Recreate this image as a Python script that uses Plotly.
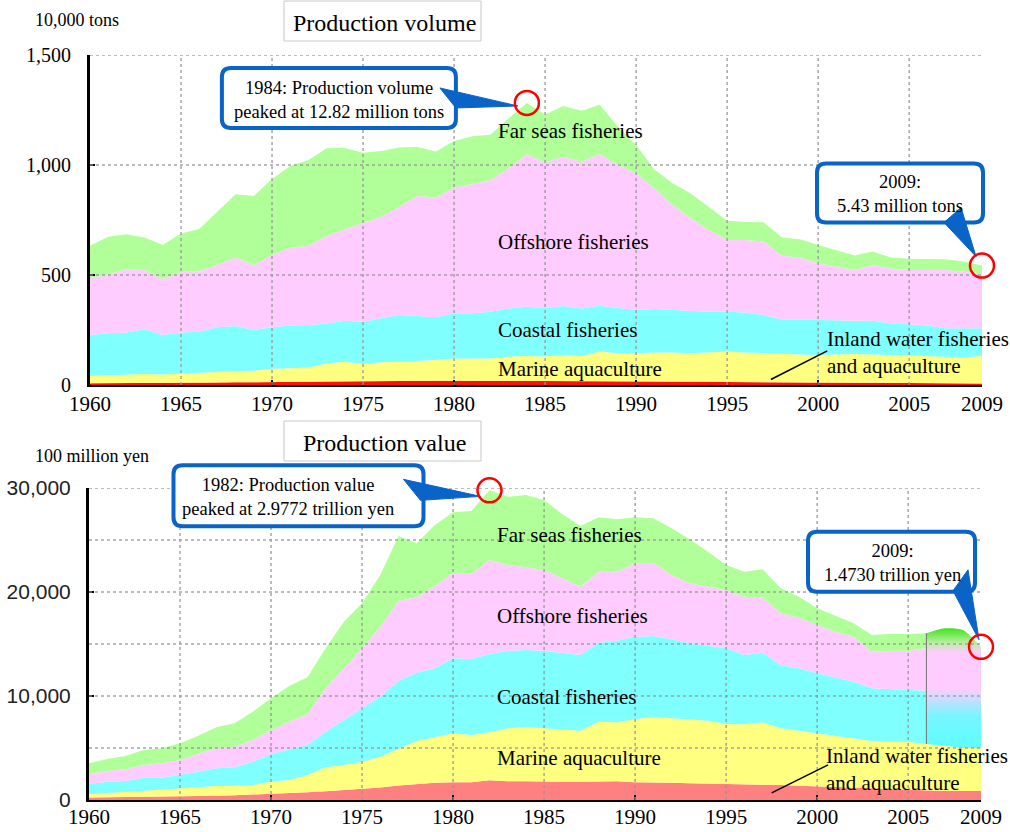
import numpy as np
import plotly.graph_objects as go

W, H = 1010, 832
SERIF = "Liberation Serif"
SANS = "Liberation Sans"

years = list(range(1960, 2010))
x_ticks = [1960, 1965, 1970, 1975, 1980, 1985, 1990, 1995, 2000, 2005, 2009]
grid_years = [1965, 1970, 1975, 1980, 1985, 1990, 1995, 2000, 2005]

# ---- Production volume (10,000 tons), 1960-2009 ----
vol_inland = [8, 8, 9, 9, 10, 10, 11, 11, 12, 12,
              13, 14, 15, 16, 17, 17, 18, 19, 19, 19,
              19, 18, 18, 18, 18, 18, 18, 17, 17, 17,
              16, 16, 16, 15, 15, 14, 13, 13, 12, 12,
              11, 11, 10, 10, 9, 9, 8, 8, 7, 7]
vol_marine_aqua = [33, 37, 39, 41, 38, 43, 45, 48, 52, 53,
                   61, 62, 65, 82, 89, 79, 85, 87, 90, 95,
                   101, 103, 103, 111, 114, 111, 118, 115, 135, 127,
                   128, 132, 132, 129, 133, 138, 135, 131, 129, 127,
                   125, 128, 131, 129, 127, 126, 124, 121, 119, 125]
vol_coastal = [186, 190, 191, 203, 179, 186, 186, 203, 204, 185,
               188, 194, 193, 182, 186, 192, 200, 212, 205, 194,
               206, 205, 212, 219, 224, 221, 223, 216, 208, 206,
               197, 197, 193, 194, 185, 181, 182, 174, 157, 159,
               159, 153, 151, 153, 144, 141, 138, 129, 132, 126]
vol_offshore = [258, 268, 287, 270, 255, 275, 276, 283, 312, 295,
                329, 354, 360, 397, 416, 450, 462, 492, 546, 543,
                572, 588, 599, 637, 694, 661, 679, 667, 690, 650,
                621, 549, 477, 420, 372, 326, 329, 334, 290, 282,
                258, 246, 231, 253, 250, 247, 253, 265, 257, 250]
vol_far_seas = [148, 171, 159, 147, 154, 175, 191, 243, 287, 314,
                345, 371, 390, 399, 369, 318, 299, 269, 222, 210,
                211, 217, 206, 227, 232, 218, 230, 232, 224, 174,
                129, 86, 99, 113, 106, 88, 82, 88, 82, 82,
                83, 76, 66, 62, 49, 51, 50, 49, 46, 35]

# ---- Production value (100 million yen) ----
val_inland = [240, 260, 280, 300, 310, 330, 370, 410, 460, 520,
              580, 660, 750, 850, 950, 1100, 1200, 1400, 1550, 1650,
              1700, 1700, 1900, 1800, 1800, 1750, 1750, 1750, 1750, 1800,
              1700, 1700, 1650, 1600, 1580, 1550, 1520, 1500, 1440, 1380,
              1300, 1250, 1200, 1120, 1060, 1000, 900, 870, 860, 860]
val_marine_aqua = [305, 445, 521, 597, 716, 792, 912, 936, 918, 922,
                   1183, 1263, 1654, 2291, 2415, 2586, 2967, 3500, 4123, 4376,
                   4710, 4550, 4606, 5091, 5187, 5141, 5045, 4917, 5782, 5668,
                   6056, 6313, 6203, 6156, 6048, 5758, 5756, 5968, 5451, 5287,
                   5110, 4904, 4729, 4553, 4549, 4609, 4485, 4322, 4172, 4108]
# fishery breakdown by type is available for 1960-2006
val_coastal = [993, 1058, 1026, 1250, 1121, 1282, 1442, 1699, 1763, 2244,
               2660, 2949, 2884, 3430, 4327, 5128, 5769, 6550, 6571, 6634,
               7212, 7308, 7532, 7468, 7436, 7468, 7372, 7275, 7596, 7853,
               7949, 7756, 7596, 7308, 7212, 7275, 6666, 6699, 6090, 5993,
               5769, 5641, 5449, 5064, 5032, 4968, 5128]
val_offshore = [930, 1025, 1122, 1218, 1379, 1442, 1699, 1923, 1987, 2083,
                2308, 2660, 2949, 4166, 4968, 5769, 6731, 7700, 7243, 7917,
                8237, 8173, 9039, 8237, 7949, 7756, 7147, 6571, 6827, 6634,
                7052, 7052, 6186, 5769, 5673, 5609, 5609, 5320, 4968, 4872,
                4648, 4391, 4327, 3526, 3718, 3782, 4070]
val_far_seas = [1058, 1154, 1282, 1443, 1442, 1603, 1763, 2019, 2244, 2725,
                3045, 3430, 3558, 3846, 4487, 4327, 4968, 6235, 5192, 5865,
                5801, 6057, 6695, 6571, 6955, 6731, 6154, 5833, 5224, 5032,
                4422, 4262, 4487, 4231, 3365, 2404, 2404, 2692, 2404, 2019,
                1602, 1506, 1282, 1602, 1603, 1603, 1443]
# marine fisheries total (not broken down), 2006-2009
years_combined = [2006, 2007, 2008, 2009]
val_marine_fisheries = [10641, 11314, 11314, 9762]

GREEN = "#b0ff98"
PINK = "#ffccff"
CYAN = "#80ffff"
YELLOW = "#ffff80"
RED_VOL = "#ff1010"
RED_VAL = "#ff8080"
BLUE = "#0a64c8"
GRID = "rgba(150,150,150,0.85)"

X_RANGE = [1960, 2009]
# subplot placement in figure pixels: (left, right, top, bottom)
TOP_BOX = (90, 982, 55, 385)
BOT_BOX = (89, 981, 488, 800)
TOP_YRANGE = [0, 1500]
BOT_YRANGE = [0, 30000]

fig = go.Figure()


def area(x, y, color, fill, xa, ya, shape="linear", **kw):
    fig.add_trace(go.Scatter(
        x=x, y=y, mode="lines", line=dict(width=0, shape=shape),
        fill=fill, fillcolor=color, xaxis=xa, yaxis=ya,
        hoverinfo="skip", showlegend=False, **kw))


# volume stack
vol_stack = np.cumsum(np.vstack([vol_inland, vol_marine_aqua, vol_coastal,
                                 vol_offshore, vol_far_seas]), axis=0)
for i, c in enumerate([RED_VOL, YELLOW, CYAN, PINK, GREEN]):
    area(years, vol_stack[i], c, "tozeroy" if i == 0 else "tonexty", "x", "y")

# value stack
n_det = len(val_coastal)
val_base = np.cumsum(np.vstack([val_inland, val_marine_aqua]), axis=0)
area(years, val_base[0], RED_VAL, "tozeroy", "x2", "y2")
area(years, val_base[1], YELLOW, "tonexty", "x2", "y2")
area(years[:n_det], val_base[1][:n_det], "rgba(0,0,0,0)", "none", "x2", "y2")
det_stack = val_base[1][:n_det] + np.cumsum(
    np.vstack([val_coastal, val_offshore, val_far_seas]), axis=0)
for i, c in enumerate([CYAN, PINK, GREEN]):
    area(years[:n_det], det_stack[i], c, "tonexty", "x2", "y2")

k0 = years.index(years_combined[0])
comb_base = val_base[1][k0:]
comb_top = comb_base + np.array(val_marine_fisheries)
area(years_combined, comb_base, "rgba(0,0,0,0)", "none", "x2", "y2")
lo, hi = float(comb_base.min()), float(comb_top.max())
fig.add_trace(go.Scatter(
    x=years_combined, y=comb_top, mode="lines",
    line=dict(width=0, shape="spline", smoothing=0.8),
    fill="tonexty",
    fillgradient=dict(type="vertical", start=lo, stop=hi,
                      colorscale=[[0.0, "#5cfcff"], [0.27, "#78f6ff"],
                                  [0.5, "#ffccff"], [0.8, "#ffccff"],
                                  [0.88, "#b8f0a0"], [1.0, "#40e41e"]]),
    xaxis="x2", yaxis="y2", hoverinfo="skip", showlegend=False))
# divider where the breakdown stops
fig.add_trace(go.Scatter(
    x=[years_combined[0], years_combined[0]],
    y=[comb_base[0], comb_top[0]], mode="lines",
    line=dict(color="#707070", width=1), xaxis="x2", yaxis="y2",
    hoverinfo="skip", showlegend=False))


# ---- axes ----
def px(v):
    return v / W


def py(v):
    return 1 - v / H


def data_to_paper(box, yrange, xv, yv):
    l, r, t, b = box
    fx = (xv - X_RANGE[0]) / (X_RANGE[1] - X_RANGE[0])
    fy = (yv - yrange[0]) / (yrange[1] - yrange[0])
    return px(l + fx * (r - l)), py(b - fy * (b - t))


xa_common = dict(range=X_RANGE, tickmode="array", tickvals=x_ticks,
                 ticktext=[str(t) for t in x_ticks], ticks="",
                 showline=True, linecolor="black", linewidth=2,
                 showgrid=False, zeroline=False, automargin=False,
                 tickfont=dict(family=SERIF, size=21, color="black"),
                 minor=dict(tickmode="array", tickvals=[1970, 1980, 1990, 2000],
                            ticks="inside", ticklen=5, tickwidth=1.5,
                            tickcolor="black", showgrid=False))
ya_common = dict(tickmode="array", ticks="inside", ticklen=5, tickwidth=2,
                 tickcolor="black", showline=True, linecolor="black",
                 linewidth=3, showgrid=False, zeroline=False,
                 automargin=False)
fig.update_layout(
    width=W, height=H, margin=dict(l=0, r=0, t=0, b=0, autoexpand=False),
    paper_bgcolor="white", plot_bgcolor="white", showlegend=False,
    xaxis=dict(domain=[px(TOP_BOX[0]), px(TOP_BOX[1])], anchor="y",
               ticklabelstandoff=-1, **xa_common),
    yaxis=dict(domain=[py(TOP_BOX[3]), py(TOP_BOX[2])], anchor="x",
               range=TOP_YRANGE, tickvals=[0, 500, 1000, 1500], tickformat=",",
               tickfont=dict(family=SERIF, size=20, color="black"),
               ticklabelstandoff=12, **ya_common),
    xaxis2=dict(domain=[px(BOT_BOX[0]), px(BOT_BOX[1])], anchor="y2",
                ticklabelstandoff=-3, **xa_common),
    yaxis2=dict(domain=[py(BOT_BOX[3]), py(BOT_BOX[2])], anchor="x2",
                range=BOT_YRANGE, tickvals=[0, 10000, 20000, 30000],
                ticktext=["0", "10,000", "20,000", "30,000"],
                tickfont=dict(family=SANS, size=21, color="#222"),
                ticklabelstandoff=11, **ya_common),
)

shapes = []
annotations = []

# dotted grid drawn over the areas
for xr, yr, hvals in [("x", "y", [500, 1000, 1500]),
                      ("x2", "y2", [5000, 10000, 15000, 20000, 25000, 30000])]:
    for g in grid_years:
        shapes.append(dict(type="line", xref=xr, yref=yr + " domain",
                           x0=g, x1=g, y0=0, y1=1, layer="above",
                           line=dict(color=GRID, width=1.5, dash="dot")))
    for h in hvals:
        shapes.append(dict(type="line", xref=xr + " domain", yref=yr,
                           x0=0, x1=1, y0=h, y1=h, layer="above",
                           line=dict(color=GRID, width=1.5, dash="dot")))

# panel titles and units
for text, y0, y1 in [("Production volume", 0, 41), ("Production value", 420, 461)]:
    shapes.append(dict(type="rect", xref="paper", yref="paper",
                       x0=px(284), x1=px(481), y0=py(y1), y1=py(y0 + 1),
                       line=dict(color="#c8c8c8", width=1), fillcolor="white",
                       layer="above"))
    annotations.append(dict(text=text, xref="paper", yref="paper",
                            x=px(384), y=py((y0 + y1) / 2 + 2), showarrow=False,
                            xanchor="center", yanchor="middle",
                            font=dict(family=SERIF, size=24, color="black")))
for text, yy in [("10,000 tons", 20), ("100 million yen", 456)]:
    annotations.append(dict(text=text, xref="paper", yref="paper",
                            x=px(33), y=py(yy), showarrow=False,
                            xanchor="left", yanchor="middle",
                            font=dict(family=SERIF, size=18, color="black")))


def rrect_path(x0, y0, x1, y1, r):
    # pixel offsets, y up-positive
    return (f"M {x0 + r},{y1} L {x1 - r},{y1} Q {x1},{y1} {x1},{y1 - r} "
            f"L {x1},{y0 + r} Q {x1},{y0} {x1 - r},{y0} L {x0 + r},{y0} "
            f"Q {x0},{y0} {x0},{y0 + r} L {x0},{y1 - r} Q {x0},{y1} {x0 + r},{y1} Z")


def callout(box_px, yrange, xv, yv, box, text_pos, wedge, text):
    """box/text_pos/wedge are screen pixel offsets (dx right, dy down) from the point."""
    ax, ay = data_to_paper(box_px, yrange, xv, yv)
    bx0, bx1, by0, by1 = box
    common = dict(xref="paper", yref="paper", xsizemode="pixel",
                  ysizemode="pixel", xanchor=ax, yanchor=ay, layer="above")
    shapes.append(dict(type="path", path=rrect_path(bx0, -by1, bx1, -by0, 9),
                       fillcolor="white", line=dict(color=BLUE, width=4), **common))
    wp = "M " + " L ".join(f"{dx},{-dy}" for dx, dy in wedge) + " Z"
    shapes.append(dict(type="path", path=wp, fillcolor=BLUE,
                       line=dict(color=BLUE, width=1), **common))
    shapes.append(dict(type="circle", x0=-12, x1=12, y0=-12, y1=12,
                       line=dict(color="#ff0000", width=2.5), **common))
    annotations.append(dict(text=text, xref="paper", yref="paper", x=ax, y=ay,
                            xshift=text_pos[0], yshift=-text_pos[1],
                            showarrow=False, xanchor="center", yanchor="middle",
                            align="center",
                            font=dict(family=SERIF, size=18.5, color="black")))


vol_total = vol_stack[-1]
i84 = years.index(1984)
callout(TOP_BOX, TOP_YRANGE, 1984, float(vol_total[i84]),
        (-305, -71, -35, 25), (-188, -3),
        [(-87, -15), (-9, 3), (-71, 5)],
        "1984: Production volume<br>peaked at 12.82 million tons")
callout(TOP_BOX, TOP_YRANGE, 2009, float(vol_total[-1]),
        (-165, 1, -102, -43), (-82, -72),
        [(-38, -43), (-21, -58), (-6, -9)],
        "2009:<br>5.43 million tons")

i82 = years.index(1982)
callout(BOT_BOX, BOT_YRANGE, 1982, float(det_stack[-1][i82]),
        (-316, -66, -25, 36), (-201, 7),
        [(-86, -11), (-9, 6), (-69, 10)],
        "1982: Production value<br>peaked at 2.9772 trillion yen")
callout(BOT_BOX, BOT_YRANGE, 2009, float(comb_top[-1]),
        (-173, -6, -115, -55), (-89, -84),
        [(-28, -56), (-13, -77), (-2, -7)],
        "2009:<br>1.4730 trillion yen")

# series labels
lab_font = dict(family=SERIF, size=21, color="black")
for xr, yr, items in [
    ("x", "y", [("Far seas fisheries", 1155), ("Offshore fisheries", 650),
                ("Coastal fisheries", 250), ("Marine aquaculture", 73)]),
    ("x2", "y2", [("Far seas fisheries", 25480), ("Offshore fisheries", 17690),
                  ("Coastal fisheries", 9900), ("Marine aquaculture", 4040)]),
]:
    for text, yv in items:
        annotations.append(dict(text=text, xref=xr, yref=yr, x=1982.3, y=yv,
                                showarrow=False, xanchor="left",
                                yanchor="middle", font=lab_font))

annotations.append(dict(text="Inland water fisheries<br>and aquaculture",
                        xref="x", yref="y", x=2000.4, y=150, showarrow=False,
                        xanchor="left", yanchor="middle", align="left",
                        font=lab_font))
annotations.append(dict(text="Inland water fisheries<br>and aquaculture",
                        xref="x2", yref="y2", x=2000.4, y=2980, showarrow=False,
                        xanchor="left", yanchor="middle", align="left",
                        font=lab_font))
shapes.append(dict(type="line", xref="x", yref="y", x0=2000.5, y0=155,
                   x1=1997.4, y1=25, layer="above",
                   line=dict(color="black", width=1.5)))
shapes.append(dict(type="line", xref="x2", yref="y2", x0=2000.6, y0=3370,
                   x1=1997.5, y1=680, layer="above",
                   line=dict(color="black", width=1.5)))

fig.update_layout(shapes=shapes, annotations=annotations)
fig.write_html("out.html")
